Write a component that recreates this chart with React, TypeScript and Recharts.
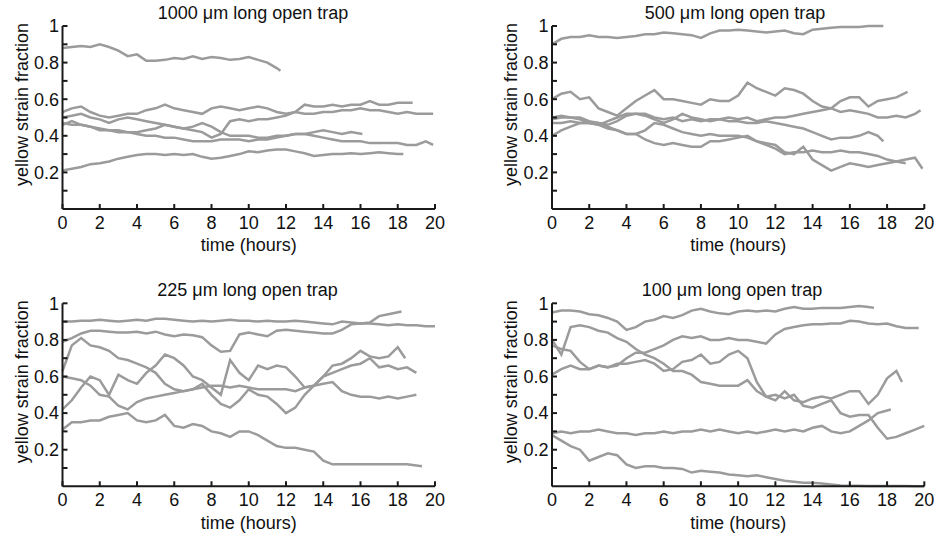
import { LineChart, Line, XAxis, YAxis } from "recharts";

const hours = [
  0, 0.5, 1, 1.5, 2, 2.5, 3, 3.5, 4, 4.5, 5, 5.5, 6, 6.5, 7, 7.5, 8, 8.5, 9, 9.5,
  10, 10.5, 11, 11.5, 12, 12.5, 13, 13.5, 14, 14.5, 15, 15.5, 16, 16.5, 17, 17.5,
  18, 18.5, 19, 19.5, 20,
];
const xTicks = [0, 2, 4, 6, 8, 10, 12, 14, 16, 18, 20];
const yTicks = [0.1, 0.2, 0.3, 0.4, 0.5, 0.6, 0.7, 0.8, 0.9, 1];
const yTickLabels = ["", "0.2", "", "0.4", "", "0.6", "", "0.8", "", "1"];
const titles = [
  "1000 μm long open trap",
  "500 μm long open trap",
  "225 μm long open trap",
  "100 μm long open trap",
];

// 1000 um trap, one value per half hour; the last value sits at the trace's end time
const t1000a = [0.88, 0.885, 0.89, 0.885, 0.9, 0.885, 0.865, 0.835, 0.845, 0.81,
  0.81, 0.815, 0.825, 0.82, 0.835, 0.82, 0.83, 0.825, 0.815, 0.82,
  0.83, 0.815, 0.8, 0.77, 0.755];
const t1000b = [0.53, 0.55, 0.56, 0.53, 0.51, 0.5, 0.51, 0.52, 0.52, 0.54,
  0.55, 0.57, 0.55, 0.54, 0.53, 0.52, 0.55, 0.56, 0.55, 0.54,
  0.55, 0.56, 0.55, 0.53, 0.52, 0.53, 0.52, 0.52, 0.53, 0.53,
  0.54, 0.54, 0.55, 0.54, 0.54, 0.53, 0.52, 0.53, 0.52, 0.52, 0.52];
const t1000c = [0.5, 0.51, 0.52, 0.5, 0.49, 0.47, 0.49, 0.5, 0.49, 0.48,
  0.47, 0.46, 0.45, 0.44, 0.43, 0.42, 0.39, 0.41, 0.48, 0.49,
  0.48, 0.49, 0.49, 0.5, 0.51, 0.53, 0.57, 0.56, 0.56, 0.57,
  0.56, 0.57, 0.57, 0.59, 0.57, 0.57, 0.58, 0.58, 0.58];
const t1000d = [0.47, 0.46, 0.46, 0.45, 0.44, 0.43, 0.43, 0.42, 0.42, 0.43,
  0.44, 0.46, 0.45, 0.44, 0.45, 0.47, 0.45, 0.42, 0.4, 0.4,
  0.4, 0.39, 0.39, 0.4, 0.4, 0.41, 0.41, 0.42, 0.43, 0.42,
  0.41, 0.42, 0.41];
const t1000e = [0.46, 0.48, 0.46, 0.45, 0.43, 0.43, 0.42, 0.42, 0.41, 0.4,
  0.4, 0.39, 0.39, 0.38, 0.37, 0.37, 0.37, 0.38, 0.38, 0.38,
  0.37, 0.38, 0.38, 0.39, 0.4, 0.41, 0.41, 0.4, 0.39, 0.38,
  0.37, 0.37, 0.37, 0.36, 0.36, 0.36, 0.36, 0.35, 0.35, 0.37, 0.35];
const t1000g = [0.21, 0.22, 0.23, 0.245, 0.25, 0.26, 0.275, 0.285, 0.295, 0.3,
  0.3, 0.295, 0.3, 0.295, 0.3, 0.285, 0.275, 0.28, 0.29, 0.3,
  0.315, 0.31, 0.32, 0.325, 0.325, 0.315, 0.305, 0.29, 0.295, 0.3,
  0.3, 0.305, 0.3, 0.305, 0.31, 0.305, 0.3, 0.3];
const trap1000 = [t1000a, t1000b, t1000c, t1000d, t1000e, t1000g];
const trap1000Ends = [11.7, 19.9, 18.8, 16.1, 19.9, 18.3];

// 500 um trap
const t500a = [0.9, 0.93, 0.94, 0.94, 0.95, 0.94, 0.94, 0.935, 0.94, 0.945,
  0.955, 0.955, 0.965, 0.96, 0.955, 0.95, 0.935, 0.96, 0.975, 0.975,
  0.98, 0.975, 0.97, 0.965, 0.97, 0.975, 0.96, 0.955, 0.98, 0.985,
  0.99, 0.995, 0.995, 0.995, 1, 1, 1];
const t500p = [0.6, 0.63, 0.64, 0.6, 0.61, 0.55, 0.53, 0.51, 0.55, 0.59,
  0.62, 0.65, 0.6, 0.6, 0.59, 0.58, 0.57, 0.6, 0.59, 0.59,
  0.62, 0.69, 0.66, 0.64, 0.62, 0.66, 0.65, 0.63, 0.59, 0.56,
  0.55, 0.53, 0.54, 0.53, 0.52, 0.5, 0.5, 0.51, 0.5, 0.52, 0.54];
const t500q = [0.5, 0.51, 0.5, 0.5, 0.48, 0.47, 0.46, 0.48, 0.51, 0.52,
  0.52, 0.5, 0.49, 0.5, 0.48, 0.49, 0.48, 0.49, 0.49, 0.5,
  0.49, 0.5, 0.48, 0.49, 0.5, 0.5, 0.51, 0.52, 0.53, 0.54,
  0.55, 0.59, 0.61, 0.61, 0.56, 0.59, 0.6, 0.61, 0.64];
const t500r = [0.49, 0.5, 0.5, 0.49, 0.47, 0.46, 0.48, 0.5, 0.52, 0.52,
  0.51, 0.49, 0.47, 0.49, 0.52, 0.5, 0.49, 0.48, 0.49, 0.48,
  0.48, 0.47, 0.47, 0.48, 0.47, 0.46, 0.45, 0.44, 0.42, 0.4,
  0.38, 0.39, 0.39, 0.4, 0.42, 0.4, 0.37];
const t500s = [0.47, 0.47, 0.48, 0.47, 0.47, 0.46, 0.44, 0.43, 0.41, 0.41,
  0.38, 0.36, 0.35, 0.36, 0.35, 0.34, 0.34, 0.37, 0.37, 0.38,
  0.39, 0.4, 0.37, 0.36, 0.35, 0.31, 0.3, 0.34, 0.27, 0.24,
  0.21, 0.23, 0.25, 0.24, 0.23, 0.24, 0.25, 0.26, 0.27, 0.28, 0.22];
const t500t = [0.4, 0.43, 0.45, 0.47, 0.47, 0.47, 0.45, 0.43, 0.41, 0.41,
  0.43, 0.47, 0.46, 0.44, 0.42, 0.41, 0.4, 0.41, 0.4, 0.4,
  0.4, 0.39, 0.37, 0.35, 0.33, 0.3, 0.31, 0.31, 0.32, 0.31,
  0.31, 0.32, 0.31, 0.31, 0.3, 0.29, 0.27, 0.26, 0.25];
const trap500 = [t500a, t500p, t500q, t500r, t500s, t500t];
const trap500Ends = [17.8, 19.8, 19.1, 17.8, 19.9, 19];

// 225 um trap
const t225a = [0.9, 0.9, 0.905, 0.905, 0.91, 0.905, 0.9, 0.905, 0.91, 0.905,
  0.915, 0.915, 0.91, 0.905, 0.9, 0.905, 0.9, 0.905, 0.91, 0.905,
  0.905, 0.9, 0.905, 0.9, 0.9, 0.905, 0.9, 0.895, 0.89, 0.885,
  0.9, 0.895, 0.89, 0.89, 0.885, 0.88, 0.885, 0.88, 0.88, 0.875, 0.875];
const t225b = [0.79, 0.81, 0.835, 0.85, 0.85, 0.845, 0.84, 0.84, 0.845, 0.835,
  0.845, 0.83, 0.82, 0.83, 0.825, 0.815, 0.77, 0.735, 0.74, 0.83,
  0.84, 0.83, 0.82, 0.85, 0.855, 0.85, 0.845, 0.84, 0.835, 0.835,
  0.855, 0.885, 0.89, 0.895, 0.93, 0.94, 0.955];
const t225c = [0.63, 0.77, 0.81, 0.77, 0.76, 0.74, 0.7, 0.69, 0.67, 0.65,
  0.62, 0.56, 0.53, 0.52, 0.53, 0.56, 0.5, 0.45, 0.43, 0.47,
  0.53, 0.5, 0.49, 0.45, 0.4, 0.43, 0.5, 0.55, 0.6, 0.66,
  0.67, 0.7, 0.74, 0.71, 0.7, 0.71, 0.76, 0.7];
const t225d = [0.6, 0.59, 0.58, 0.55, 0.5, 0.49, 0.44, 0.42, 0.46, 0.48,
  0.49, 0.5, 0.51, 0.52, 0.53, 0.54, 0.55, 0.55, 0.54, 0.55,
  0.54, 0.53, 0.53, 0.53, 0.53, 0.52, 0.54, 0.55, 0.56, 0.57,
  0.52, 0.5, 0.49, 0.49, 0.48, 0.49, 0.48, 0.49, 0.5];
const t225e = [0.42, 0.47, 0.54, 0.6, 0.58, 0.5, 0.61, 0.58, 0.56, 0.62,
  0.66, 0.72, 0.7, 0.66, 0.6, 0.58, 0.54, 0.5, 0.69, 0.62,
  0.58, 0.66, 0.64, 0.66, 0.65, 0.6, 0.54, 0.55, 0.6, 0.62,
  0.64, 0.66, 0.67, 0.7, 0.65, 0.66, 0.64, 0.65, 0.62];
const t225f = [0.31, 0.35, 0.35, 0.36, 0.36, 0.38, 0.39, 0.4, 0.36, 0.35,
  0.36, 0.39, 0.33, 0.32, 0.34, 0.33, 0.3, 0.29, 0.27, 0.3,
  0.3, 0.28, 0.25, 0.22, 0.21, 0.21, 0.2, 0.19, 0.14, 0.12,
  0.12, 0.12, 0.12, 0.12, 0.12, 0.12, 0.12, 0.12, 0.11];
const trap225 = [t225a, t225b, t225c, t225d, t225e, t225f];
const trap225Ends = [20, 18.2, 18.4, 19, 19, 19.3];

// 100 um trap
const t100a = [0.95, 0.96, 0.96, 0.955, 0.94, 0.935, 0.92, 0.9, 0.855, 0.87,
  0.9, 0.91, 0.93, 0.92, 0.935, 0.96, 0.97, 0.955, 0.945, 0.94,
  0.955, 0.96, 0.955, 0.96, 0.955, 0.97, 0.98, 0.97, 0.97, 0.975,
  0.975, 0.975, 0.98, 0.985, 0.98, 0.975];
const t100b = [0.8, 0.72, 0.87, 0.88, 0.87, 0.85, 0.84, 0.81, 0.79, 0.75,
  0.72, 0.7, 0.67, 0.63, 0.63, 0.61, 0.57, 0.56, 0.55, 0.55,
  0.55, 0.58, 0.52, 0.49, 0.5, 0.48, 0.5, 0.44, 0.43, 0.45,
  0.47, 0.4, 0.38, 0.39, 0.39, 0.32, 0.26, 0.27, 0.29, 0.31, 0.33];
const t100c = [0.77, 0.75, 0.74, 0.68, 0.64, 0.66, 0.65, 0.66, 0.7, 0.73,
  0.73, 0.75, 0.77, 0.8, 0.82, 0.81, 0.82, 0.8, 0.8, 0.81,
  0.8, 0.8, 0.79, 0.78, 0.83, 0.86, 0.87, 0.88, 0.885, 0.885,
  0.89, 0.89, 0.905, 0.9, 0.89, 0.885, 0.89, 0.875, 0.865, 0.865];
const t100d = [0.61, 0.64, 0.66, 0.64, 0.64, 0.66, 0.65, 0.67, 0.67, 0.68,
  0.69, 0.67, 0.63, 0.64, 0.68, 0.69, 0.72, 0.67, 0.68, 0.72,
  0.74, 0.7, 0.57, 0.49, 0.47, 0.52, 0.47, 0.46, 0.48, 0.49,
  0.48, 0.5, 0.52, 0.52, 0.45, 0.5, 0.59, 0.63, 0.57];
const t100e = [0.29, 0.3, 0.29, 0.3, 0.3, 0.31, 0.3, 0.29, 0.29, 0.28,
  0.29, 0.29, 0.3, 0.29, 0.3, 0.3, 0.31, 0.3, 0.31, 0.3,
  0.29, 0.3, 0.29, 0.3, 0.31, 0.3, 0.31, 0.3, 0.32, 0.33,
  0.3, 0.29, 0.3, 0.33, 0.36, 0.4, 0.42];
const t100f = [0.28, 0.25, 0.22, 0.2, 0.14, 0.16, 0.18, 0.17, 0.12, 0.1,
  0.11, 0.11, 0.1, 0.1, 0.095, 0.075, 0.085, 0.08, 0.075, 0.065,
  0.06, 0.055, 0.06, 0.05, 0.04, 0.03, 0.025, 0.02, 0.02, 0.015,
  0.01, 0.005, 0.003, 0.003, 0.002, 0.002, 0.001, 0.001, 0.001, 0, 0];
const trap100 = [t100a, t100b, t100c, t100d, t100e, t100f];
const trap100Ends = [17.3, 20, 19.7, 18.8, 18.2, 20];

const AXIS = "#1a1a1a";
const TRACE = "#9b9b9b";
const FONT = "'Liberation Sans', Arial, Helvetica, sans-serif";

function toPoints(values: number[], end: number) {
  return values.map((v, i) => ({ t: i === values.length - 1 ? end : hours[i], v }));
}

type Margin = { top: number; right: number; bottom: number; left: number };

function Panel({ traces, ends, margin }: { traces: number[][]; ends: number[]; margin: Margin }) {
  return (
    <LineChart width={471} height={269} margin={margin}>
      <XAxis
        type="number"
        dataKey="t"
        domain={[0, 20]}
        ticks={xTicks}
        interval={0}
        height={30}
        tickSize={-5}
        tickMargin={12}
        axisLine={{ stroke: AXIS, strokeWidth: 2 }}
        tickLine={{ stroke: AXIS, strokeWidth: 2 }}
        tick={{ fill: "#111", fontSize: 18 }}
        label={{ value: "time (hours)", position: "center", dy: 21, fill: "#111", fontSize: 18 }}
      />
      <YAxis
        type="number"
        domain={[0, 1]}
        ticks={yTicks}
        interval={0}
        width={40}
        tickSize={-5}
        tickMargin={8.5}
        tickFormatter={(_v: number, i: number) => yTickLabels[i]}
        axisLine={{ stroke: AXIS, strokeWidth: 2 }}
        tickLine={{ stroke: AXIS, strokeWidth: 2 }}
        tick={{ fill: "#111", fontSize: 18 }}
        label={{
          value: "yellow strain fraction",
          angle: -90,
          position: "center",
          dx: -21,
          dy: -13,
          fill: "#111",
          fontSize: 18,
        }}
      />
      {traces.map((vals, i) => (
        <Line
          key={i}
          data={toPoints(vals, ends[i])}
          dataKey="v"
          type="linear"
          dot={false}
          activeDot={false}
          stroke={TRACE}
          strokeWidth={2.5}
          isAnimationActive={false}
        />
      ))}
    </LineChart>
  );
}

export default function App() {
  const box = (left: number, top: number) => ({ position: "absolute" as const, left, top });
  return (
    <div style={{ position: "absolute", left: 0, top: 0, width: 942, height: 538, background: "#fff", fontFamily: FONT }}>
      <div style={box(0, 0)}>
        <Panel traces={trap1000} ends={trap1000Ends} margin={{ top: 26, right: 36, bottom: 30, left: 22.5 }} />
      </div>
      <div style={box(471, 0)}>
        <Panel traces={trap500} ends={trap500Ends} margin={{ top: 26, right: 17.7, bottom: 30, left: 41 }} />
      </div>
      <div style={box(0, 269)}>
        <Panel traces={trap225} ends={trap225Ends} margin={{ top: 34.3, right: 36, bottom: 21.7, left: 22.5 }} />
      </div>
      <div style={box(471, 269)}>
        <Panel traces={trap100} ends={trap100Ends} margin={{ top: 34.3, right: 17.7, bottom: 21.7, left: 41 }} />
      </div>
      <svg width={942} height={538} style={{ position: "absolute", left: 0, top: 0, pointerEvents: "none" }}>
        <text x={253} y={19.3} textAnchor="middle" fontSize={18} fill="#111">{titles[0]}</text>
        <text x={735} y={19.3} textAnchor="middle" fontSize={18} fill="#111">{titles[1]}</text>
        <text x={247.5} y={296.3} textAnchor="middle" fontSize={18} fill="#111">{titles[2]}</text>
        <text x={732} y={296.3} textAnchor="middle" fontSize={18} fill="#111">{titles[3]}</text>
      </svg>
    </div>
  );
}
